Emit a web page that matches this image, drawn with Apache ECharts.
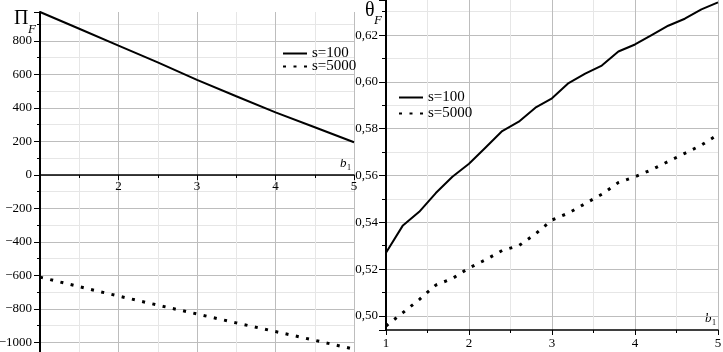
<!DOCTYPE html>
<html><head><meta charset="utf-8">
<script src="https://cdn.jsdelivr.net/npm/echarts@6/dist/echarts.min.js"></script>
<style>html,body{margin:0;padding:0;background:#fff}#c{width:723px;height:352px}</style>
</head><body><div id="c"></div>
<script>
// ---- data ----
const bLeft = [1, 1.5, 2, 2.5, 3, 3.5, 4, 4.5, 5];
const profitS100 = [973, 873, 772, 672, 568, 470, 374, 285, 195];
const profitS5000 = [-610, -667, -723, -777, -830, -883, -935, -987, -1040];

const bRight = [1, 1.2, 1.4, 1.6, 1.8, 2, 2.2, 2.4, 2.6, 2.8, 3, 3.2, 3.4, 3.6, 3.8, 4, 4.2, 4.4, 4.6, 4.8, 5];
const thetaS100 = [0.527, 0.5385, 0.5445, 0.5525, 0.5595, 0.565, 0.572, 0.579, 0.583, 0.589, 0.593, 0.5995, 0.6035, 0.607, 0.613, 0.616, 0.62, 0.624, 0.627, 0.631, 0.634];
const thetaS5000 = [0.4957, 0.5013, 0.507, 0.5132, 0.516, 0.5205, 0.524, 0.528, 0.53, 0.535, 0.541, 0.544, 0.548, 0.552, 0.557, 0.5595, 0.5625, 0.566, 0.5695, 0.573, 0.5775];

const profitTicks = [-1000, -800, -600, -400, -200, 0, 200, 400, 600, 800];
const thetaTicks = ['0,50', '0,52', '0,54', '0,56', '0,58', '0,60', '0,62'];
const bTicksLeft = ['2', '3', '4', '5'];
const bTicksRight = ['1', '2', '3', '4', '5'];
const seriesNames = ['s=100', 's=5000'];

// ---- style ----
const FONT = '"Liberation Serif", "DejaVu Serif", serif';
const majorGrid = '#bdbdbd';
const minorGrid = '#e6e6e6';

function zip(xs, ys) { return xs.map((x, i) => [x, ys[i]]); }

const chart = echarts.init(document.getElementById('c'), null, {renderer: 'canvas'});

const xCommon = {
  type: 'value', min: 1, max: 5, interval: 1,
  axisLine: {onZero: false, lineStyle: {color: '#000', width: 1.5}},
  axisTick: {show: true, length: 5, lineStyle: {color: '#000'}},
  minorTick: {show: true, splitNumber: 2, length: 3, lineStyle: {color: '#000'}},
  splitLine: {show: true, lineStyle: {color: majorGrid, width: 1}},
  minorSplitLine: {show: true, lineStyle: {color: minorGrid, width: 1}}
};

const option = {
  animation: false,
  backgroundColor: '#fff',
  grid: [
    {left: 40, top: 12, width: 314, height: 340, containLabel: false, outerBoundsMode: 'none'},
    {left: 386, top: 0, width: 332, height: 330, containLabel: false, outerBoundsMode: 'none'}
  ],
  xAxis: [
    Object.assign({}, xCommon, {
      gridIndex: 0, position: 'bottom', offset: -177,
      axisLabel: {
        margin: 5, color: '#000', fontFamily: FONT, fontSize: 13,
        formatter: v => (bTicksLeft.indexOf(String(v)) >= 0 ? String(v) : '')
      }
    }),
    Object.assign({}, xCommon, {
      gridIndex: 1,
      axisLabel: {
        margin: 7, color: '#000', fontFamily: FONT, fontSize: 13,
        formatter: v => (bTicksRight.indexOf(String(v)) >= 0 ? String(v) : '')
      }
    })
  ],
  yAxis: [
    {
      type: 'value', gridIndex: 0, min: -1057, max: 973,
      minInterval: 200, maxInterval: 200, splitNumber: 10,
      axisLine: {show: true, onZero: false, lineStyle: {color: '#000', width: 2}},
      axisTick: {show: true, length: 6, lineStyle: {color: '#000'}},
      minorTick: {show: true, splitNumber: 2, length: 3, lineStyle: {color: '#000'}},
      splitLine: {show: true, showMinLine: false, showMaxLine: false, lineStyle: {color: majorGrid}},
      minorSplitLine: {show: true, lineStyle: {color: minorGrid}},
      axisLabel: {
        showMinLabel: false, showMaxLabel: false,
        margin: 8, color: '#000', fontFamily: FONT, fontSize: 13,
        formatter: v => {
          const r = Math.round(v);
          if (profitTicks.indexOf(r) < 0 || Math.abs(v - r) > 1e-6) return '';
          return r < 0 ? '\u2212' + Math.abs(r) : String(r);
        }
      }
    },
    {
      type: 'value', gridIndex: 1, min: 0.494, max: 0.635,
      minInterval: 0.02, maxInterval: 0.02, splitNumber: 7,
      axisLine: {show: true, onZero: false, lineStyle: {color: '#000', width: 2}},
      axisTick: {show: true, length: 7, lineStyle: {color: '#000'}},
      minorTick: {show: true, splitNumber: 2, length: 4, lineStyle: {color: '#000'}},
      splitLine: {show: true, showMinLine: false, showMaxLine: false, lineStyle: {color: majorGrid}},
      minorSplitLine: {show: true, lineStyle: {color: minorGrid}},
      axisLabel: {
        showMinLabel: false, showMaxLabel: false,
        margin: 8, color: '#000', fontFamily: FONT, fontSize: 13,
        formatter: v => {
          const s = v.toFixed(2).replace('.', ',');
          return thetaTicks.indexOf(s) >= 0 && Math.abs(v - parseFloat(v.toFixed(2))) < 1e-9 ? s : '';
        }
      }
    }
  ],
  legend: [
    {
      left: 277, top: 41, orient: 'vertical', data: seriesNames,
      itemWidth: 24, itemHeight: 10, itemGap: -2, selectedMode: false,
      itemStyle: {opacity: 0},
      textStyle: {fontFamily: FONT, fontSize: 15, color: '#000', lineHeight: 13}
    },
    {
      left: 393, top: 85, orient: 'vertical', data: seriesNames,
      itemWidth: 24, itemHeight: 10, itemGap: 1, selectedMode: false,
      itemStyle: {opacity: 0},
      textStyle: {fontFamily: FONT, fontSize: 15, color: '#000', lineHeight: 13}
    }
  ],
  series: [
    {
      type: 'line', name: seriesNames[0], xAxisIndex: 0, yAxisIndex: 0,
      data: zip(bLeft, profitS100), symbol: 'none', silent: true,
      lineStyle: {color: '#000', width: 2}, itemStyle: {color: '#000'}
    },
    {
      type: 'line', name: seriesNames[1], xAxisIndex: 0, yAxisIndex: 0,
      data: zip(bLeft, profitS5000), symbol: 'none', silent: true,
      lineStyle: {color: '#000', width: 3, type: [3, 7.5], cap: 'butt'}, itemStyle: {color: '#000'}
    },
    {
      type: 'line', name: seriesNames[0], xAxisIndex: 1, yAxisIndex: 1,
      data: zip(bRight, thetaS100), symbol: 'none', silent: true,
      lineStyle: {color: '#000', width: 2}, itemStyle: {color: '#000'}
    },
    {
      type: 'line', name: seriesNames[1], xAxisIndex: 1, yAxisIndex: 1,
      data: zip(bRight, thetaS5000), symbol: 'none', silent: true,
      lineStyle: {color: '#000', width: 3, type: [3, 7.5], cap: 'butt'}, itemStyle: {color: '#000'}
    }
  ],
  graphic: [
    {type: 'text', x: 14, y: 9, style: {text: 'Π', font: '20px ' + FONT, fill: '#000'}},
    {type: 'text', x: 28, y: 23, style: {text: 'F', font: 'italic 13px ' + FONT, fill: '#000'}},
    {type: 'text', x: 365, y: 1, style: {text: 'θ', font: '20px ' + FONT, fill: '#000'}},
    {type: 'text', x: 374, y: 14, style: {text: 'F', font: 'italic 13px ' + FONT, fill: '#000'}},
    {type: 'text', x: 340, y: 157, style: {text: 'b', font: 'italic 13px ' + FONT, fill: '#000'}},
    {type: 'text', x: 347, y: 164, style: {text: '1', font: '8px ' + FONT, fill: '#000'}},
    {type: 'text', x: 705, y: 312, style: {text: 'b', font: 'italic 13px ' + FONT, fill: '#000'}},
    {type: 'text', x: 712, y: 319, style: {text: '1', font: '8px ' + FONT, fill: '#000'}}
  ]
};
chart.setOption(option);
</script>
</body></html>
